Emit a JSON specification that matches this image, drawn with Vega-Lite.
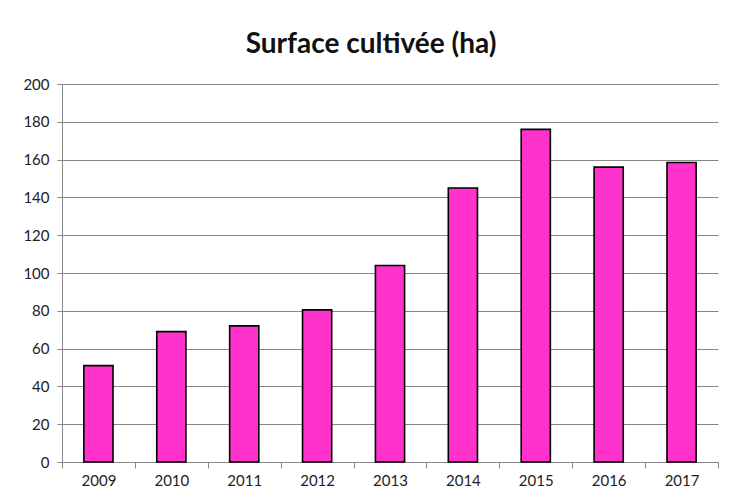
{
  "$schema": "https://vega.github.io/schema/vega-lite/v6.json",
  "autosize": {"type": "none"},
  "width": 656,
  "height": 378,
  "padding": {"left": 62, "top": 84, "right": 12, "bottom": 33},
  "background": "white",
  "title": {
    "text": "Surface cultivée (ha)",
    "font": "Lato",
    "fontSize": 28,
    "fontWeight": "bold",
    "color": "#111111",
    "anchor": "middle",
    "dx": -19,
    "offset": 18
  },
  "data": {
    "values": [
      {"annee": "2009", "surface": 51},
      {"annee": "2010", "surface": 69},
      {"annee": "2011", "surface": 72},
      {"annee": "2012", "surface": 80.5},
      {"annee": "2013", "surface": 104},
      {"annee": "2014", "surface": 145},
      {"annee": "2015", "surface": 176},
      {"annee": "2016", "surface": 156},
      {"annee": "2017", "surface": 158.5}
    ]
  },
  "mark": {"type": "bar", "fill": "#FF33CC", "stroke": "#000000", "strokeWidth": 1.6, "width": {"band": 0.4}},
  "encoding": {
    "x": {
      "field": "annee",
      "type": "ordinal",
      "title": null,
      "scale": {"paddingInner": 0, "paddingOuter": 0},
      "axis": {
        "labelAngle": 0,
        "tickBand": "extent",
        "domainColor": "#888888",
        "tickColor": "#888888",
        "tickSize": 6,
        "labelFont": "Lato",
        "labelFontSize": 15,
        "labelColor": "#222222",
        "labelPadding": 5,
        "grid": false
      }
    },
    "y": {
      "field": "surface",
      "type": "quantitative",
      "title": null,
      "scale": {"domain": [0, 200], "nice": false},
      "axis": {
        "values": [0, 20, 40, 60, 80, 100, 120, 140, 160, 180, 200],
        "domainColor": "#888888",
        "tickColor": "#888888",
        "tickSize": 5,
        "gridColor": "#888888",
        "gridWidth": 1,
        "labelFont": "Lato",
        "labelFontSize": 15,
        "labelColor": "#222222",
        "labelPadding": 8
      }
    }
  },
  "config": {"view": {"stroke": null}}
}
